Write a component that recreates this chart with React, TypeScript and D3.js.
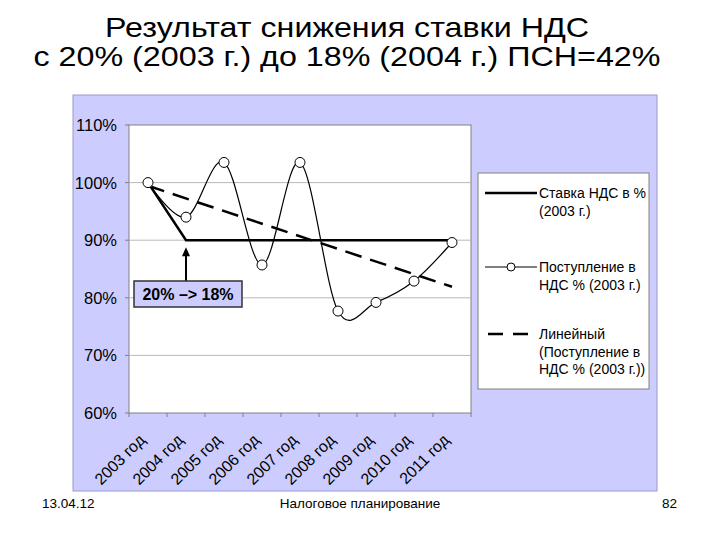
import React, { useEffect, useRef } from 'react';
import * as d3 from 'd3';

const years = ['2003 год', '2004 год', '2005 год', '2006 год', '2007 год', '2008 год', '2009 год', '2010 год', '2011 год'];
const rateValues = [1.0, 0.9, 0.9, 0.9, 0.9, 0.9, 0.9, 0.9, 0.9];
const revenueValues = [1.0, 0.94, 1.035, 0.857, 1.035, 0.777, 0.792, 0.829, 0.896];
const yTicks = [0.6, 0.7, 0.8, 0.9, 1.0, 1.1];

const titleLines = ['Результат снижения ставки НДС', 'с 20% (2003 г.) до 18% (2004 г.) ПСН=42%'];
const legendItems = [
  { kind: 'solid', lines: ['Ставка НДС в %', '(2003 г.)'] },
  { kind: 'marker', lines: ['Поступление в', 'НДС % (2003 г.)'] },
  { kind: 'dash', lines: ['Линейный', '(Поступление в', 'НДС % (2003 г.))'] },
];

const App: React.FC = () => {
  const svgRef = useRef<SVGSVGElement>(null);

  useEffect(() => {
    if (!svgRef.current) return;
    document.body.style.margin = '0';
    const svg = d3.select(svgRef.current);
    svg.selectAll('*').remove();
    const font = 'Arial, "Liberation Sans", sans-serif';

    // --- title ---
    const titleW = [484, 627];
    titleLines.forEach((t, i) => {
      svg.append('text')
        .attr('x', 347).attr('y', 37 + i * 28.5)
        .attr('text-anchor', 'middle')
        .attr('font-family', font).attr('font-size', 28)
        .attr('textLength', titleW[i]).attr('lengthAdjust', 'spacingAndGlyphs')
        .attr('fill', '#000')
        .text(t);
    });

    // --- chart panel ---
    svg.append('rect')
      .attr('x', 73).attr('y', 95).attr('width', 584).attr('height', 396)
      .attr('fill', '#ccccff').attr('stroke', '#9a9ac8').attr('stroke-width', 1);

    const left = 129, right = 471, top = 125, bottom = 413;
    const x = d3.scaleBand().domain(years).range([left, right]);
    const y = d3.scaleLinear().domain([0.6, 1.1]).range([bottom, top]);
    const cx = (d: string) => (x(d) || 0) + x.bandwidth() / 2;

    svg.append('rect')
      .attr('x', left).attr('y', top).attr('width', right - left).attr('height', bottom - top)
      .attr('fill', '#fff').attr('stroke', '#808080').attr('stroke-width', 1);

    // gridlines
    svg.selectAll('.grid')
      .data(yTicks.slice(1, -1))
      .enter().append('line')
      .attr('x1', left).attr('x2', right)
      .attr('y1', d => y(d)).attr('y2', d => y(d))
      .attr('stroke', '#b8b8b8').attr('stroke-width', 1);

    // y axis labels + ticks
    yTicks.forEach(v => {
      svg.append('line')
        .attr('x1', left - 4).attr('x2', left)
        .attr('y1', y(v)).attr('y2', y(v))
        .attr('stroke', '#808080');
      svg.append('text')
        .attr('x', 117).attr('y', y(v) + 6)
        .attr('text-anchor', 'end')
        .attr('font-family', font).attr('font-size', 16.5)
        .text(`${Math.round(v * 100)}%`);
    });

    // x axis ticks + labels
    const bounds = years.map(d => x(d) || 0).concat([right]);
    bounds.forEach(b => {
      svg.append('line')
        .attr('x1', b).attr('x2', b)
        .attr('y1', bottom).attr('y2', bottom + 4)
        .attr('stroke', '#808080');
    });
    years.forEach(d => {
      svg.append('text')
        .attr('transform', `translate(${cx(d) - 2},${bottom + 28}) rotate(-45)`)
        .attr('text-anchor', 'end')
        .attr('font-family', font).attr('font-size', 16)
        .text(d);
    });

    // trend line (least squares on the revenue series)
    const n = revenueValues.length;
    const idx = d3.range(1, n + 1);
    const mx = d3.mean(idx) as number;
    const my = d3.mean(revenueValues) as number;
    const slope = d3.sum(idx.map((k, i) => (k - mx) * (revenueValues[i] - my))) / d3.sum(idx.map(k => (k - mx) ** 2));
    const trendAt = (k: number) => my + slope * (k - mx);

    svg.append('line')
      .attr('x1', cx(years[0])).attr('y1', y(trendAt(1)))
      .attr('x2', cx(years[n - 1])).attr('y2', y(trendAt(n)))
      .attr('stroke', '#000').attr('stroke-width', 2.5)
      .attr('stroke-dasharray', '17,9');

    // VAT rate line
    const rateLine = d3.line<number>()
      .x((_, i) => cx(years[i]))
      .y(d => y(d));
    svg.append('path')
      .datum(rateValues)
      .attr('d', rateLine)
      .attr('fill', 'none').attr('stroke', '#000').attr('stroke-width', 2.5);

    // revenue smoothed line
    const revLine = d3.line<number>()
      .curve(d3.curveCatmullRom.alpha(0))
      .x((_, i) => cx(years[i]))
      .y(d => y(d));
    svg.append('path')
      .datum(revenueValues)
      .attr('d', revLine)
      .attr('fill', 'none').attr('stroke', '#000').attr('stroke-width', 1.2);

    svg.selectAll('.marker')
      .data(revenueValues)
      .enter().append('circle')
      .attr('cx', (_, i) => cx(years[i]))
      .attr('cy', d => y(d))
      .attr('r', 5)
      .attr('fill', '#fff').attr('stroke', '#000').attr('stroke-width', 1);

    // annotation arrow + box
    const ax = cx(years[1]);
    svg.append('line')
      .attr('x1', ax).attr('x2', ax)
      .attr('y1', 281).attr('y2', y(0.9) + 14)
      .attr('stroke', '#000').attr('stroke-width', 2);
    svg.append('path')
      .attr('d', `M${ax},${y(0.9) + 7} L${ax - 4},${y(0.9) + 16} L${ax + 4},${y(0.9) + 16} Z`)
      .attr('fill', '#000');
    svg.append('rect')
      .attr('x', 134).attr('y', 281).attr('width', 108).attr('height', 26)
      .attr('fill', '#ccccff').attr('stroke', '#333').attr('stroke-width', 1.5);
    svg.append('text')
      .attr('x', 188).attr('y', 300)
      .attr('text-anchor', 'middle')
      .attr('font-family', font).attr('font-size', 16).attr('font-weight', 'bold')
      .text('20% –> 18%');

    // legend
    svg.append('rect')
      .attr('x', 478).attr('y', 173).attr('width', 171).attr('height', 216)
      .attr('fill', '#fff').attr('stroke', '#808080').attr('stroke-width', 1);
    const legendY = [193, 267, 334];
    legendItems.forEach((item, i) => {
      const ly = legendY[i];
      const line = svg.append('line')
        .attr('x1', 485).attr('x2', 537)
        .attr('y1', ly).attr('y2', ly)
        .attr('stroke', '#000');
      if (item.kind === 'solid') line.attr('stroke-width', 2.5);
      if (item.kind === 'marker') {
        line.attr('stroke-width', 1.2);
        svg.append('circle').attr('cx', 511).attr('cy', ly).attr('r', 4)
          .attr('fill', '#fff').attr('stroke', '#000');
      }
      if (item.kind === 'dash') line.attr('stroke-width', 2.5).attr('stroke-dasharray', '15,10').attr('x1', 488);
      item.lines.forEach((t, j) => {
        svg.append('text')
          .attr('x', 539).attr('y', ly + 5 + j * 17.6)
          .attr('font-family', font).attr('font-size', 14)
          .text(t);
      });
    });

    // footer
    const foot = [
      { t: '13.04.12', x: 42, anchor: 'start' },
      { t: 'Налоговое планирование', x: 360, anchor: 'middle' },
      { t: '82', x: 677, anchor: 'end' },
    ];
    foot.forEach(f => {
      svg.append('text')
        .attr('x', f.x).attr('y', 508)
        .attr('text-anchor', f.anchor)
        .attr('font-family', font).attr('font-size', 13.5)
        .text(f.t);
    });
  }, []);

  return (
    <div style={{ position: 'absolute', left: 0, top: 0 }}>
      <svg ref={svgRef} width={720} height={540} style={{ display: 'block', background: '#fff' }} />
    </div>
  );
};

export default App;
